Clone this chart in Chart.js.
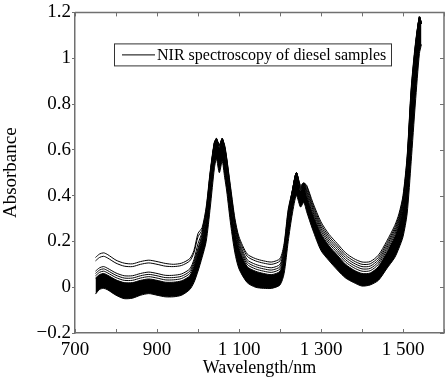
<!DOCTYPE html>
<html>
<head>
<meta charset="utf-8">
<script src="https://cdn.jsdelivr.net/npm/chart.js@4/dist/chart.umd.min.js"></script>
<style>
  html, body { margin: 0; padding: 0; background: #fff; overflow: hidden; }
  #wrap { width: 450px; height: 381px; }
</style>
</head>
<body>
<div id="wrap"><canvas id="chart" width="450" height="381"></canvas></div>
<script>
// Comprimentos de onda (nm)
const wavelengths = [750, 760, 770, 780, 800, 820, 840, 860, 880, 900, 920, 940, 960, 980, 990, 1000, 1010, 1020, 1030, 1040, 1045, 1052, 1059, 1065, 1070, 1080, 1090, 1100, 1120, 1140, 1160, 1180, 1200, 1210, 1220, 1230, 1240, 1250, 1258, 1265, 1280, 1300, 1320, 1340, 1360, 1380, 1400, 1420, 1440, 1460, 1480, 1490, 1500, 1510, 1520, 1530, 1540, 1545];

// Espectros mais altos (linhas separadas acima da faixa)
const spectrum1 = [0.13, 0.145, 0.15, 0.142, 0.118, 0.105, 0.102, 0.112, 0.118, 0.112, 0.104, 0.1, 0.105, 0.125, 0.16, 0.235, 0.26, 0.35, 0.51, 0.635, 0.645, 0.62, 0.645, 0.62, 0.565, 0.43, 0.3, 0.22, 0.145, 0.125, 0.115, 0.11, 0.125, 0.19, 0.34, 0.42, 0.5, 0.445, 0.455, 0.445, 0.37, 0.285, 0.23, 0.19, 0.15, 0.125, 0.11, 0.112, 0.14, 0.2, 0.27, 0.32, 0.4, 0.57, 0.87, 1.06, 1.18, 1.15];
const spectrum2 = [0.115, 0.13, 0.135, 0.127, 0.105, 0.092, 0.09, 0.1, 0.106, 0.1, 0.092, 0.09, 0.095, 0.115, 0.15, 0.22, 0.25, 0.34, 0.5, 0.63, 0.645, 0.62, 0.645, 0.615, 0.56, 0.42, 0.29, 0.21, 0.135, 0.115, 0.105, 0.1, 0.115, 0.18, 0.33, 0.42, 0.5, 0.44, 0.455, 0.44, 0.36, 0.275, 0.22, 0.18, 0.14, 0.115, 0.1, 0.102, 0.13, 0.19, 0.26, 0.31, 0.39, 0.56, 0.86, 1.05, 1.18, 1.15];
const spectrum3 = [0.07, 0.085, 0.09, 0.082, 0.062, 0.05, 0.05, 0.06, 0.066, 0.06, 0.052, 0.052, 0.058, 0.08, 0.12, 0.19, 0.24, 0.33, 0.5, 0.63, 0.645, 0.62, 0.645, 0.61, 0.555, 0.41, 0.28, 0.2, 0.12, 0.1, 0.09, 0.085, 0.1, 0.17, 0.32, 0.42, 0.5, 0.435, 0.455, 0.43, 0.35, 0.265, 0.21, 0.17, 0.13, 0.105, 0.09, 0.092, 0.12, 0.18, 0.25, 0.3, 0.38, 0.55, 0.85, 1.05, 1.18, 1.15];
const spectrum4 = [0.06, 0.075, 0.08, 0.072, 0.052, 0.04, 0.04, 0.05, 0.056, 0.05, 0.042, 0.042, 0.048, 0.07, 0.11, 0.17, 0.23, 0.32, 0.49, 0.63, 0.65, 0.62, 0.65, 0.61, 0.55, 0.4, 0.27, 0.19, 0.11, 0.09, 0.08, 0.075, 0.09, 0.16, 0.31, 0.42, 0.5, 0.43, 0.455, 0.42, 0.34, 0.255, 0.2, 0.16, 0.12, 0.095, 0.08, 0.082, 0.11, 0.17, 0.24, 0.29, 0.37, 0.54, 0.84, 1.04, 1.18, 1.15];
const spectrum5 = [0.05, 0.065, 0.07, 0.062, 0.042, 0.03, 0.03, 0.04, 0.046, 0.04, 0.032, 0.032, 0.038, 0.06, 0.1, 0.16, 0.22, 0.31, 0.48, 0.625, 0.65, 0.615, 0.65, 0.605, 0.54, 0.39, 0.26, 0.18, 0.1, 0.08, 0.07, 0.065, 0.08, 0.15, 0.3, 0.415, 0.5, 0.425, 0.455, 0.41, 0.33, 0.245, 0.19, 0.15, 0.11, 0.085, 0.07, 0.072, 0.1, 0.16, 0.23, 0.28, 0.36, 0.53, 0.83, 1.03, 1.18, 1.15];

// Faixa densa de espectros (limite superior e inferior)
const bandTop = [0.04, 0.055, 0.06, 0.052, 0.032, 0.02, 0.02, 0.03, 0.036, 0.03, 0.022, 0.022, 0.028, 0.05, 0.09, 0.15, 0.21, 0.3, 0.47, 0.62, 0.65, 0.61, 0.65, 0.6, 0.53, 0.38, 0.25, 0.17, 0.09, 0.07, 0.06, 0.055, 0.07, 0.14, 0.29, 0.41, 0.5, 0.42, 0.455, 0.4, 0.32, 0.235, 0.18, 0.14, 0.1, 0.075, 0.06, 0.062, 0.09, 0.15, 0.22, 0.27, 0.35, 0.52, 0.82, 1.02, 1.18, 1.15];
const bandBottom = [-0.03, -0.01, -0.005, -0.012, -0.035, -0.05, -0.048, -0.035, -0.028, -0.035, -0.042, -0.042, -0.035, -0.01, 0.02, 0.07, 0.13, 0.2, 0.35, 0.52, 0.56, 0.5, 0.55, 0.48, 0.42, 0.27, 0.15, 0.08, 0.02, 0.0, -0.005, -0.005, 0.01, 0.06, 0.2, 0.32, 0.4, 0.35, 0.37, 0.33, 0.25, 0.16, 0.115, 0.075, 0.04, 0.02, 0.005, 0.01, 0.03, 0.08, 0.13, 0.17, 0.22, 0.32, 0.55, 0.8, 1.02, 1.06];

const xTicksShown = [700, 900, 1100, 1300, 1500];
const legendText = 'NIR spectroscopy of diesel samples';

const AXIS_COLOR = '#707070';
const SERIF = "'Liberation Serif', 'Times New Roman', serif";

function pts(arr) {
    return wavelengths.map((w, i) => ({ x: w, y: arr[i] }));
}

function lineSet(arr) {
    return {
        data: pts(arr),
        borderColor: '#000',
        borderWidth: 1,
        pointRadius: 0,
        tension: 0.25,
        fill: false
    };
}

// Caixa, ticks internos e legenda
const boxPlugin = {
    id: 'boxPlugin',
    afterDraw(chart) {
        const { ctx, chartArea: a, scales } = chart;
        ctx.save();
        ctx.strokeStyle = AXIS_COLOR;
        ctx.lineWidth = 1.5;
        ctx.beginPath();
        ctx.moveTo(a.left, a.top);
        ctx.lineTo(a.right, a.top);
        ctx.lineTo(a.right, a.bottom);
        ctx.stroke();

        ctx.lineWidth = 1;
        ctx.beginPath();
        scales.x.ticks.forEach(t => {
            const px = Math.round(scales.x.getPixelForValue(t.value)) + 0.5;
            ctx.moveTo(px, a.bottom);
            ctx.lineTo(px, a.bottom - 4);
            ctx.moveTo(px, a.top);
            ctx.lineTo(px, a.top + 4);
        });
        scales.y.ticks.forEach(t => {
            const py = Math.round(scales.y.getPixelForValue(t.value)) + 0.5;
            ctx.moveTo(a.right, py);
            ctx.lineTo(a.right - 4, py);
        });
        ctx.stroke();

        // legenda
        const lx = a.left + 39, ly = a.top + 31, lw = 277, lh = 22;
        ctx.strokeStyle = '#333';
        ctx.lineWidth = 1;
        ctx.strokeRect(lx + 0.5, ly + 0.5, lw, lh);
        ctx.strokeStyle = '#000';
        ctx.beginPath();
        ctx.moveTo(lx + 8, ly + 11.5);
        ctx.lineTo(lx + 41, ly + 11.5);
        ctx.stroke();
        ctx.fillStyle = '#000';
        ctx.font = '16px ' + SERIF;
        ctx.textBaseline = 'middle';
        ctx.fillText(legendText, lx + 43, ly + 12);
        ctx.restore();
    }
};

const ctx = document.getElementById('chart').getContext('2d');
new Chart(ctx, {
    type: 'line',
    data: {
        datasets: [
            lineSet(spectrum1),
            lineSet(spectrum2),
            lineSet(spectrum3),
            lineSet(spectrum4),
            lineSet(spectrum5),
            {
                data: pts(bandTop),
                borderColor: '#000',
                borderWidth: 1,
                backgroundColor: '#000',
                pointRadius: 0,
                tension: 0.25,
                fill: '+1'
            },
            lineSet(bandBottom)
        ]
    },
    options: {
        responsive: false,
        animation: false,
        layout: { padding: { top: 10, right: 2.5, bottom: 0, left: 0 } },
        plugins: {
            legend: { display: false },
            tooltip: { enabled: false }
        },
        scales: {
            x: {
                type: 'linear',
                min: 700,
                max: 1600,
                afterFit(scale) { scale.height = 48; },
                border: { display: true, color: AXIS_COLOR, width: 1.5 },
                grid: { display: false, drawTicks: false, tickLength: 0 },
                ticks: {
                    stepSize: 100,
                    autoSkip: false,
                    maxRotation: 0,
                    padding: 6,
                    color: '#000',
                    font: { family: SERIF, size: 19 },
                    callback: v => xTicksShown.includes(v) ? (v >= 1000 ? '1 ' + String(v).slice(1) : String(v)) : ''
                },
                title: {
                    display: true,
                    text: 'Wavelength/nm',
                    color: '#000',
                    font: { family: SERIF, size: 18 },
                    padding: { top: 0, bottom: 2 }
                }
            },
            y: {
                min: -0.2,
                max: 1.2,
                afterFit(scale) { scale.width = 75; },
                border: { display: true, color: AXIS_COLOR, width: 1.5 },
                grid: { drawOnChartArea: false, drawTicks: true, tickLength: 3, color: AXIS_COLOR },
                ticks: {
                    stepSize: 0.2,
                    padding: 1,
                    color: '#000',
                    font: { family: SERIF, size: 19 },
                    callback: v => {
                        const s = String(Number(v.toFixed(1)));
                        return s.replace('-', '\u2212');
                    }
                },
                title: {
                    display: true,
                    text: 'Absorbance',
                    color: '#000',
                    font: { family: SERIF, size: 19 },
                    padding: { top: 0, bottom: 0 }
                }
            }
        }
    },
    plugins: [boxPlugin]
});
</script>
</body>
</html>
